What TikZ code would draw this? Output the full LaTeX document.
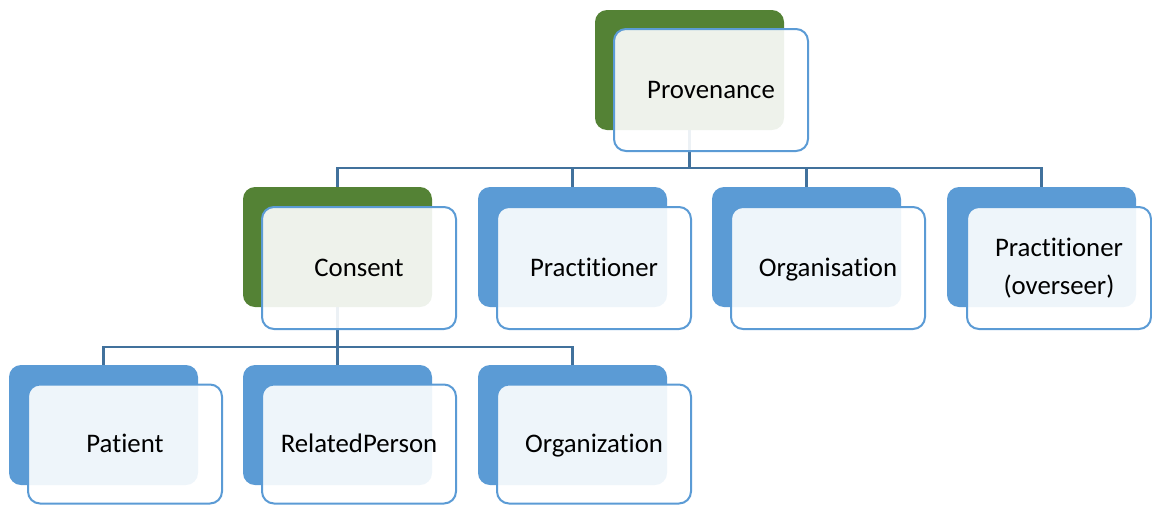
\documentclass[tikz,border=0pt]{standalone}
\usepackage{fontspec}
\setmainfont{Carlito}[RawFeature=-liga]
\usetikzlibrary{backgrounds}
\definecolor{gr}{HTML}{548235}
\definecolor{bl}{HTML}{5B9BD5}
\definecolor{cn}{HTML}{41719C}
\begin{document}
\begin{tikzpicture}[x=1pt,y=-1pt,
  backbox/.style={rectangle, rounded corners=12pt, minimum width=189pt, minimum height=120pt, inner sep=0pt, outer sep=0pt},
  greenbox/.style={backbox, fill=gr},
  bluebox/.style={backbox, fill=bl},
  frontbox/.style={rectangle, rounded corners=12pt, draw=bl, line width=2pt, fill=white, fill opacity=0.9, text opacity=1, minimum width=194pt, minimum height=122pt, font=\fontsize{26.8}{38.5}\selectfont, inner sep=0pt},
  oneline/.style={frontbox, text height=22.5pt, text depth=5.4pt},
  conn/.style={draw=cn, line width=2.5pt}]
\useasboundingbox (0,0) rectangle (1152,504);
% back boxes
\node[greenbox] (provB) at (689.5,70) {};
\node[greenbox] (consB) at (337.5,247) {};
\node[bluebox] (pracB) at (572.5,247) {};
\node[bluebox] (orgB) at (806.5,247) {};
\node[bluebox] (ovB) at (1041.5,247) {};
\node[bluebox] (patB) at (103.5,425) {};
\node[bluebox] (relB) at (337.5,425) {};
\node[bluebox] (orgzB) at (572.5,425) {};
% connectors
\coordinate (b1) at (0,168);
\coordinate (b2) at (0,347);
\begin{pgfonlayer}{background}
\draw[conn] (provB.south) -- (provB.south |- b1);
\draw[conn] (consB.north) |- (ovB.north |- b1) -- (ovB.north);
\draw[conn] (pracB.north) -- (pracB.north |- b1);
\draw[conn] (orgB.north) -- (orgB.north |- b1);
\draw[conn] (consB.south) -- (consB.south |- b2);
\draw[conn] (patB.north) |- (orgzB.north |- b2) -- (orgzB.north);
\draw[conn] (relB.north) -- (relB.north |- b2);
\end{pgfonlayer}
% front boxes
\node[oneline] (prov) at (711,90) {Provenance};
\node[oneline] (cons) at (359,268) {Consent};
\node[oneline] (prac) at (594,268) {Practitioner};
\node[oneline] (org) at (828,268) {Organisation};
\node[frontbox, align=center, minimum width=184pt] (ov) at (1059,268) {Practitioner\\(overseer)};
\node[oneline, minimum height=119pt] (pat) at (125,444) {Patient};
\node[oneline, minimum height=119pt] (rel) at (359,444) {RelatedPerson};
\node[oneline, minimum height=119pt] (orgz) at (594,444) {Organization};
\end{tikzpicture}
\end{document}
